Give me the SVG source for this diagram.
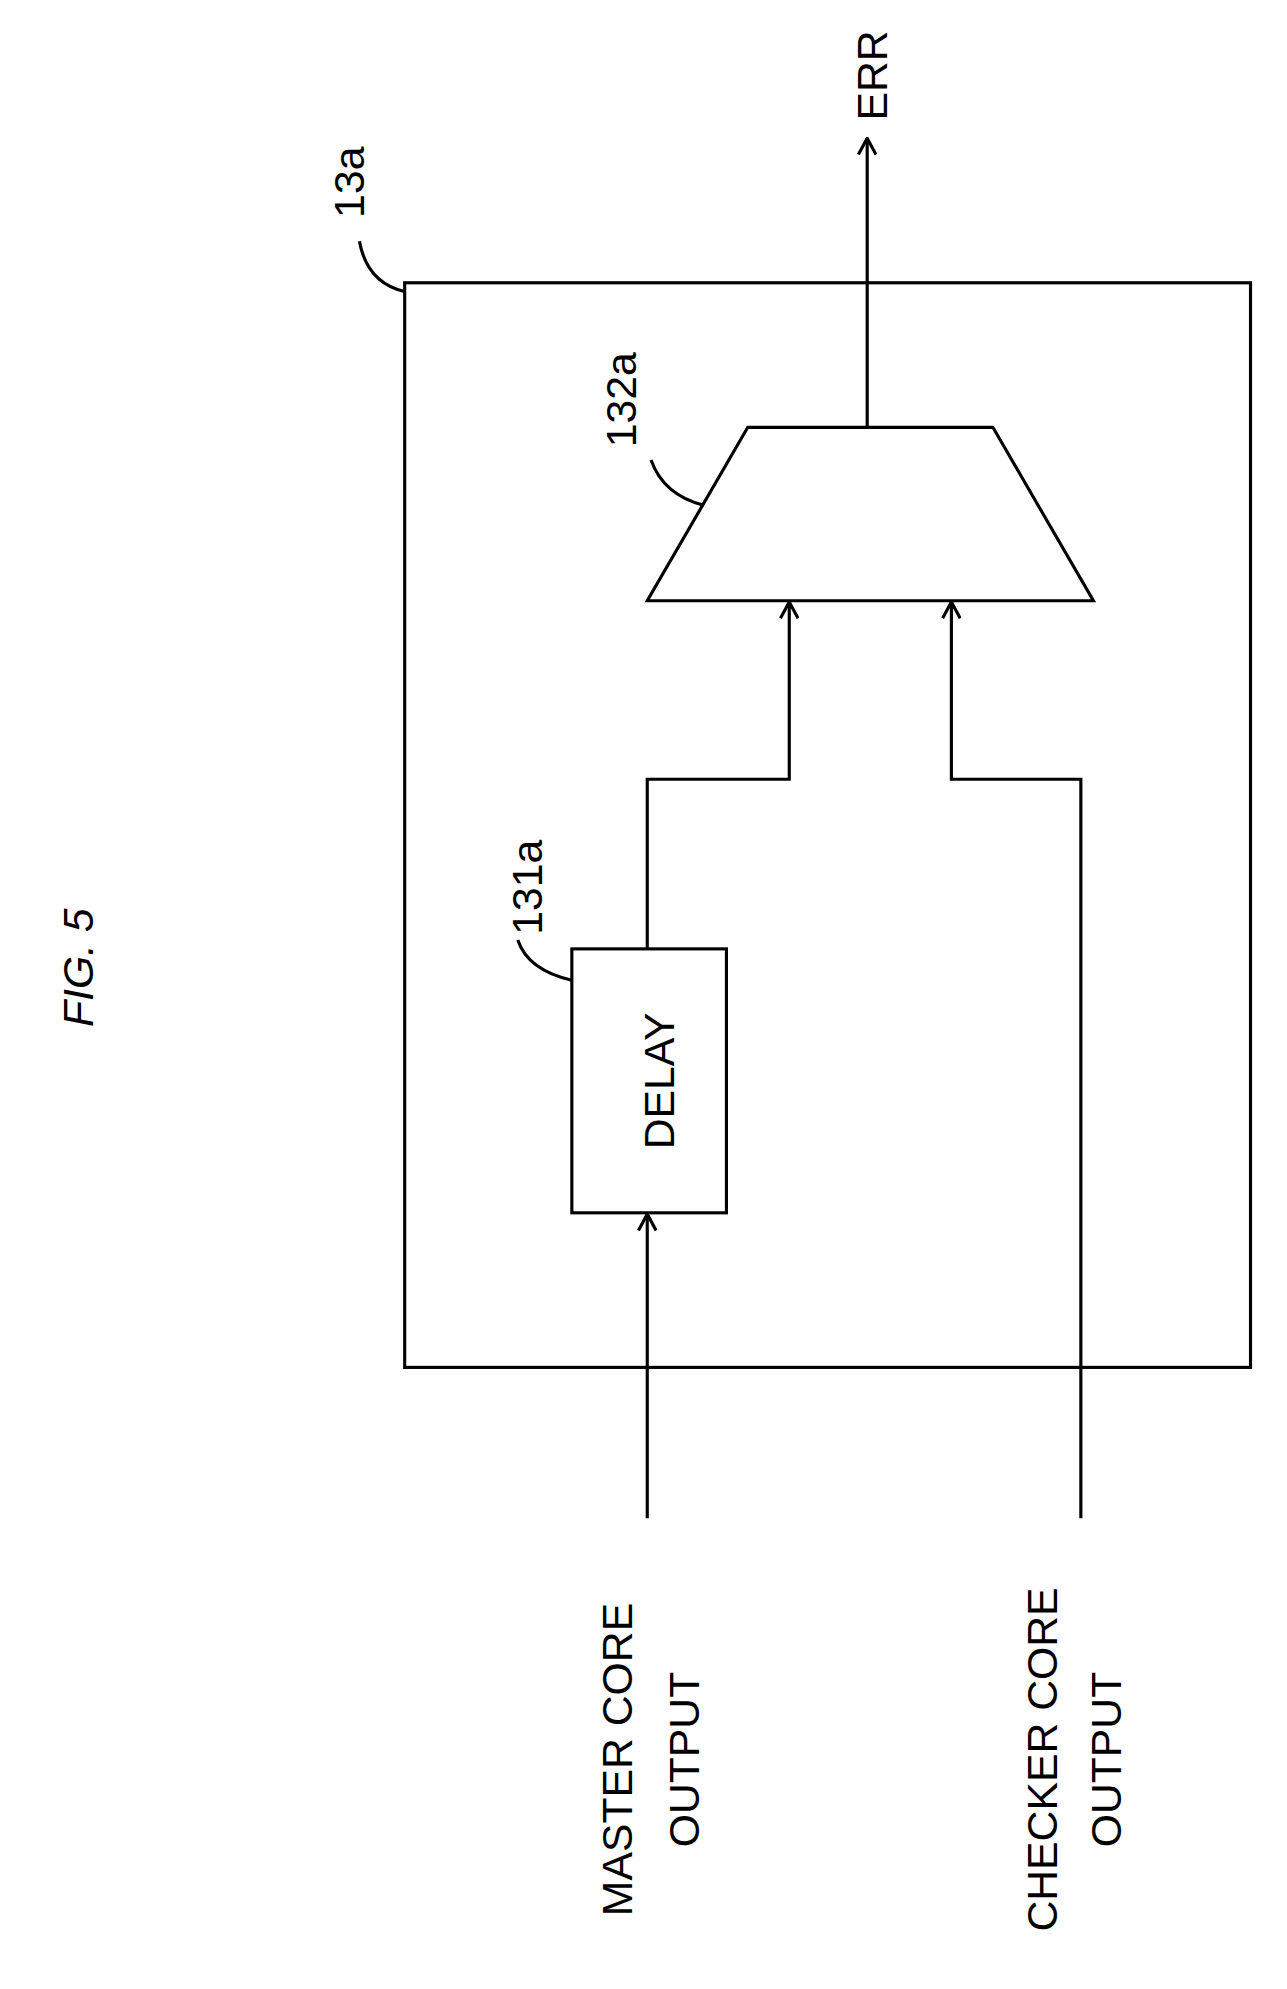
<svg xmlns="http://www.w3.org/2000/svg" width="1287" height="1989" viewBox="0 0 1287 1989">
<style>
.l{fill:none;stroke:#000;stroke-width:2.5}
.t{font-family:"Liberation Sans",Arial,sans-serif;font-size:34px;text-anchor:middle;fill:#000}
</style>
<defs>
<marker id="a" viewBox="0 0 16 16" refX="15" refY="8" markerWidth="16" markerHeight="16" markerUnits="userSpaceOnUse" orient="auto">
<polyline points="2,1 15,8 2,15" fill="none" stroke="#000" stroke-width="2.5"/>
</marker>
</defs>
<rect width="1287" height="1989" fill="#fff"/>
<g transform="scale(1.2568)">
<g id="title"><text class="t" transform="translate(74,770) rotate(-90)" font-style="italic" font-size="42">FIG.  5</text></g>
<g id="box13a">
<rect class="l" x="322" y="225" width="673" height="863"/>
<text class="t" font-size="30" transform="translate(290,145) rotate(-90)">13a</text>
<path class="l" d="M286,192 Q292,225 322,232"/>
</g>
<g id="delay">
<rect class="l" x="455" y="755" width="123" height="210"/>
<text class="t" transform="translate(536,860) rotate(-90)">DELAY</text>
<text class="t" font-size="30" transform="translate(431,706) rotate(-90)">131a</text>
<path class="l" d="M412,748 Q420,772 455,780"/>
</g>
<g id="comparator">
<polygon class="l" points="515,478 870,478 790,340 595,340"/>
<text class="t" font-size="30" transform="translate(506,318) rotate(-90)">132a</text>
<path class="l" d="M518,366 Q528,394 560,402"/>
</g>
<g id="labels">
<text class="t" transform="translate(503,1400) rotate(-90)">MASTER CORE</text>
<text class="t" transform="translate(556,1400) rotate(-90)">OUTPUT</text>
<text class="t" transform="translate(841,1400) rotate(-90)">CHECKER CORE</text>
<text class="t" transform="translate(892,1400) rotate(-90)">OUTPUT</text>
<text class="t" transform="translate(706,60) rotate(-90)">ERR</text>
</g>
<g id="connectors">
<path class="l" d="M515,1208 V966" marker-end="url(#a)"/>
<path class="l" d="M515,755 V620 H628 V479" marker-end="url(#a)"/>
<path class="l" d="M860,1208 V620 H757 V479" marker-end="url(#a)"/>
<path class="l" d="M690,340 V110" marker-end="url(#a)"/>
</g>
</g>
</svg>
